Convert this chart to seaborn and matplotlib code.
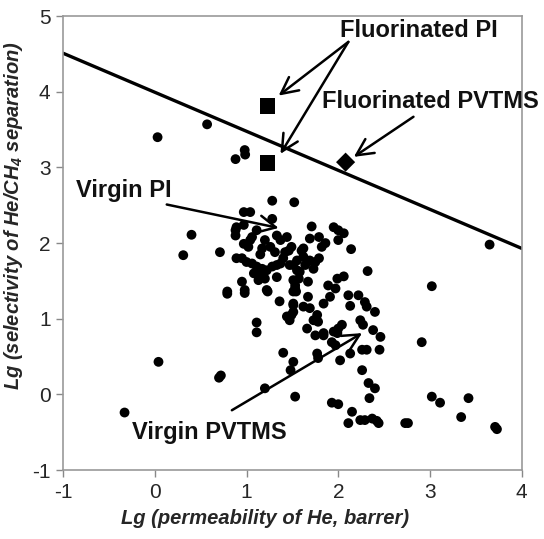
import matplotlib
matplotlib.use("Agg")
import matplotlib.pyplot as plt
import seaborn as sns
import pandas as pd

# ---- data ----
virgin_x = [-0.33, 0.04, 0.70, 0.72, 0.03, 0.57, 0.98, 0.985, 0.88, 0.31, 0.40, 0.71, 0.79, 0.95, 0.98,
            1.11, 1.11, 1.20, 1.40, 1.51, 1.48, 1.53,
            1.28, 1.52, 0.97, 1.04, 1.28, 0.88, 0.88, 0.89, 0.97, 0.97, 1.04, 1.06, 1.11, 1.20, 1.17, 1.26,
            1.31, 1.33, 1.37, 1.44, 1.42,
            0.89, 0.95, 1.00, 1.06, 1.11, 1.17, 1.22, 1.28, 1.33, 1.37,
            1.08, 1.15, 1.13, 1.20, 1.33,
            1.22, 1.47, 1.55, 1.51, 1.53,
            1.71, 1.95, 2.00, 2.06, 1.69, 1.79, 1.86, 2.00, 2.14, 1.62,
            1.55, 1.62, 1.69, 1.75, 1.79, 1.51, 1.64, 1.73, 1.58, 1.57, 1.53, 1.67, 1.54,
            2.32, 1.99, 2.06, 1.89, 1.97,
            1.67, 1.91, 2.11, 2.22,
            0.79, 0.98, 1.23, 1.51, 1.36, 1.51, 1.49, 1.47,
            2.29, 2.31, 2.40, 1.51, 1.62, 1.69, 1.84, 1.77, 1.73, 1.51, 2.13,
            1.66, 1.75, 1.84, 1.95, 2.04, 1.99, 2.00,
            2.24, 2.27, 2.38, 2.46,
            1.93, 1.97, 2.13, 2.02, 2.26, 2.31, 2.45,
            1.77, 1.78, 1.44, 1.75, 1.78, 1.84,
            2.26, 2.33, 2.40,
            1.93, 2.00, 2.15, 2.11, 2.24, 2.29, 2.37, 2.42, 2.44, 2.34, 2.73, 2.76,
            3.65, 3.02, 2.91, 3.02, 3.11, 3.42, 3.34, 3.71, 3.73,
            1.40, 1.46, 1.49, 1.02, 1.15, 1.60, 1.82]
virgin_y = [-0.24, 0.43, 0.22, 0.25, 3.40, 3.57, 3.23, 3.17, 3.11, 1.84, 2.11, 1.88, 1.36, 1.49, 1.38,
            0.95, 0.82, 0.08, 0.55, 0.43, 0.32, -0.03,
            2.56, 2.54, 2.41, 2.41, 2.32, 2.17, 2.10, 2.21, 2.24, 1.99, 2.04, 2.08, 2.17, 2.04, 1.93, 1.95,
            1.88, 2.10, 2.04, 2.08, 1.88,
            1.80, 1.80, 1.75, 1.73, 1.69, 1.66, 1.64, 1.69, 1.71, 1.73,
            1.60, 1.58, 1.51, 1.53, 1.55,
            1.38, 1.71, 1.64, 1.51, 1.40,
            2.22, 2.21, 2.17, 2.13, 2.06, 2.08, 2.00, 2.04, 1.92, 1.93,
            1.77, 1.82, 1.77, 1.75, 1.80, 1.71, 1.71, 1.66, 1.62, 1.53, 1.44, 1.49, 1.36,
            1.63, 1.53, 1.56, 1.44, 1.40,
            1.29, 1.29, 1.31, 1.31,
            1.33, 1.34, 1.36, 1.36, 1.23, 1.18, 1.05, 0.98,
            1.22, 1.16, 1.09, 1.20, 1.16, 1.14, 1.20, 1.05, 0.98, 1.09, 1.17,
            0.87, 0.78, 0.81, 0.83, 0.92, 0.81, 0.87,
            0.98, 0.92, 0.85, 0.76,
            0.69, 0.65, 0.54, 0.45, 0.59, 0.59, 0.59,
            0.54, 0.48, 1.03, 0.98, 0.96, 0.78,
            0.32, 0.15, 0.08,
            -0.11, -0.13, -0.23, -0.38, -0.34, -0.34, -0.32, -0.35, -0.38, -0.05, -0.38, -0.38,
            1.98, 1.43, 0.69, -0.03, -0.11, -0.05, -0.30, -0.43, -0.46,
            1.80, 1.90, 1.95, 1.95, 1.85, 1.90, 1.95]

fpi_x = [1.23, 1.23]
fpi_y = [3.81, 3.06]
fpvtms_x = [2.08]
fpvtms_y = [3.07]

bound_x = [-1, 4]
bound_y = [4.51, 1.93]

x_ticks = [-1, 0, 1, 2, 3, 4]
y_ticks = [-1, 0, 1, 2, 3, 4, 5]

sns.set_theme(style="white")
plt.rcParams["font.family"] = ["Liberation Sans", "DejaVu Sans"]
plt.rcParams["mathtext.fontset"] = "custom"
plt.rcParams["mathtext.rm"] = "Liberation Sans:bold:italic"
plt.rcParams["mathtext.it"] = "Liberation Sans:bold:italic"

fig = plt.figure(figsize=(5.44, 5.39), dpi=100)
ax = fig.add_axes([0.116, 0.128, 0.843, 0.842])

df = pd.DataFrame({"x": virgin_x, "y": virgin_y})
sns.scatterplot(data=df, x="x", y="y", ax=ax, color="black", s=50, edgecolor="none", legend=False, zorder=3)
sns.lineplot(x=bound_x, y=bound_y, ax=ax, color="black", linewidth=2.4, zorder=2)
sns.scatterplot(x=fpi_x, y=fpi_y, ax=ax, color="black", marker="s", s=125, edgecolor="none", zorder=4)
sns.scatterplot(x=fpvtms_x, y=fpvtms_y, ax=ax, color="black", marker="D", s=95, edgecolor="none", zorder=4)

ax.set_xlim(-1, 4)
ax.set_ylim(-1, 5)
ax.set_xticks(x_ticks)
ax.set_yticks(y_ticks)
ax.set_xticklabels([str(t) for t in x_ticks], fontsize=15)
ax.set_yticklabels([str(t) for t in y_ticks], fontsize=15)
ax.tick_params(axis="both", direction="out", length=5, width=1, color="#888888", pad=4)
ax.tick_params(axis="x", bottom=True)
ax.tick_params(axis="y", left=True)
for sp in ax.spines.values():
    sp.set_color("#999999")
    sp.set_linewidth(1.2)

ax.set_xlabel("Lg (permeability of He, barrer)", fontsize=14.5, fontweight="bold", fontstyle="italic")
ax.set_ylabel("Lg (selectivity of He/CH$_4$ separation)", fontsize=14.5, fontweight="bold", fontstyle="italic")
ax.xaxis.set_label_coords(0.44, -0.085)
ax.yaxis.set_label_coords(-0.082, 0.56)

akw = dict(fontsize=17, fontweight="bold", ha="center", va="center", color="#111111")
arw = dict(arrowstyle="->", color="black", lw=1.8, mutation_scale=30, shrinkA=0, shrinkB=0)

ax.annotate("", xy=(1.35, 3.95), xytext=(2.11, 4.66), arrowprops=arw)
ax.annotate("", xy=(1.37, 3.18), xytext=(2.11, 4.66), arrowprops=arw)
ax.text(2.88, 4.81, "Fluorinated PI", **akw)
ax.annotate("", xy=(2.17, 3.14), xytext=(2.82, 3.67), arrowprops=arw)
ax.text(3.0, 3.87, "Fluorinated PVTMS", **akw)
ax.annotate("", xy=(1.35, 2.2), xytext=(0.13, 2.51), arrowprops=arw)
ax.text(-0.34, 2.70, "Virgin PI", **akw)
ax.annotate("", xy=(2.26, 0.81), xytext=(0.84, -0.21), arrowprops=arw)
ax.text(0.59, -0.50, "Virgin PVTMS", **akw)

fig.savefig("out.png", dpi=100)
